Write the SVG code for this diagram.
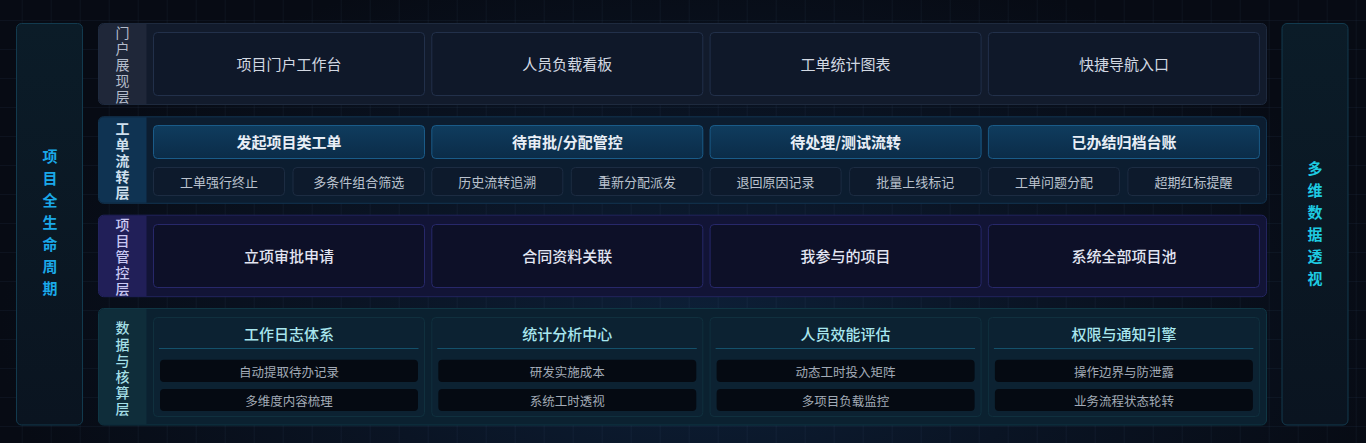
<svg xmlns="http://www.w3.org/2000/svg" width="1366" height="443" viewBox="0 0 1366 443">
<defs>
<radialGradient id="bgGlow" cx="700" cy="330" r="700" gradientUnits="userSpaceOnUse" gradientTransform="translate(700 330) scale(1 0.55) translate(-700 -330)">
<stop offset="0" stop-color="#0d2038"/>
<stop offset="0.5" stop-color="#0a1424"/>
<stop offset="1" stop-color="#070b14"/>
</radialGradient>
<pattern id="grid" x="21.7" y="20" width="29" height="29" patternUnits="userSpaceOnUse">
<path d="M0 0H29M0 0V29" fill="none" stroke="#5a86b4" stroke-opacity="0.13" stroke-width="1"/>
</pattern>
<linearGradient id="hdrGrad" x1="0" y1="0" x2="0" y2="1">
<stop offset="0" stop-color="#0f3c5e"/>
<stop offset="1" stop-color="#0b2c48"/>
</linearGradient>
<linearGradient id="sideGrad" x1="0" y1="0" x2="0" y2="1">
<stop offset="0" stop-color="#0b1c28"/>
<stop offset="1" stop-color="#0a1420"/>
</linearGradient>
</defs>
<style>
text{font-family:"Noto Sans CJK SC","Noto Sans",sans-serif;text-anchor:middle;dominant-baseline:central}
.side{fill:url(#sideGrad);stroke:#123a4e;stroke-width:1}
.sideTxtL{font-size:15px;font-weight:700;fill:#1aa8e8}
.sideTxtR{font-size:15px;font-weight:700;fill:#1ecbe2}
.lyr1{fill:#121b2c;stroke:#1e2a3e;stroke-width:1}
.lyr2{fill:#0c1d30;stroke:#123450;stroke-width:1}
.lyr3{fill:#121436;stroke:#22245e;stroke-width:1}
.lyr4{fill:#0b2130;stroke:#0f3644;stroke-width:1}
.lab1{fill:#1f2739}
.lab2{fill:#0f3352}
.lab3{fill:#211f58}
.lab4{fill:#0f2d3a}
.lt1{font-size:14px;fill:#b4bccb}
.lt2{font-size:14px;font-weight:700;fill:#cfe0ee}
.lt3{font-size:14px;font-weight:500;fill:#c9c8f2}
.lt4{font-size:14px;font-weight:500;fill:#a4dfe6}
.c1{fill:#0f1829;stroke:#22304a;stroke-width:1}
.c1t{font-size:15px;fill:#d2d8e2}
.c2h{fill:url(#hdrGrad);stroke:#1a5b88;stroke-width:1}
.c2ht{font-size:15px;font-weight:700;fill:#e8eef6}
.c2s{fill:#0d1a2c;stroke:#1c2c42;stroke-width:1}
.c2st{font-size:13px;fill:#bac2ce}
.c3{fill:#0d1028;stroke:#27286a;stroke-width:1}
.c3t{font-size:15px;font-weight:500;fill:#e2e5f2}
.c4{fill:#0c2232;stroke:#10303e;stroke-width:1}
.c4t{font-size:15px;font-weight:500;fill:#a8e6ee}
.sep{stroke:#14506a;stroke-width:1}
.pill{fill:#050a12}
.pt{font-size:12.5px;fill:#a2aab6}
</style>
<rect x="0" y="0" width="1366" height="443" fill="url(#bgGlow)"/>
<rect x="0" y="0" width="1366" height="443" fill="url(#grid)"/>

<g id="side-left">
<rect class="side" x="16.5" y="23.5" width="66" height="401.5" rx="5"/>
<text class="sideTxtL" x="50" y="155">项</text>
<text class="sideTxtL" x="50" y="177">目</text>
<text class="sideTxtL" x="50" y="199">全</text>
<text class="sideTxtL" x="50" y="221">生</text>
<text class="sideTxtL" x="50" y="243">命</text>
<text class="sideTxtL" x="50" y="265">周</text>
<text class="sideTxtL" x="50" y="287">期</text>
</g>

<g id="side-right">
<rect class="side" x="1282" y="23.5" width="66" height="401.5" rx="5"/>
<text class="sideTxtR" x="1315" y="167">多</text>
<text class="sideTxtR" x="1315" y="189">维</text>
<text class="sideTxtR" x="1315" y="211">数</text>
<text class="sideTxtR" x="1315" y="233">据</text>
<text class="sideTxtR" x="1315" y="255">透</text>
<text class="sideTxtR" x="1315" y="277">视</text>
</g>

<g id="layer-portal">
<rect class="lyr1" x="98.5" y="23.5" width="1168" height="81" rx="5"/>
<path class="lab1" d="M103.5 24H146.5V104H103.5A5 5 0 0 1 99 99V29A5 5 0 0 1 103.5 24Z"/>
<text class="lt1" x="122.5" y="32">门</text>
<text class="lt1" x="122.5" y="48">户</text>
<text class="lt1" x="122.5" y="64">展</text>
<text class="lt1" x="122.5" y="80">现</text>
<text class="lt1" x="122.5" y="96">层</text>
<g id="p1"><rect class="c1" x="153.5" y="32.5" width="271" height="63" rx="4"/><text class="c1t" x="289" y="63">项目门户工作台</text></g>
<g id="p2"><rect class="c1" x="431.8" y="32.5" width="271" height="63" rx="4"/><text class="c1t" x="567.3" y="63">人员负载看板</text></g>
<g id="p3"><rect class="c1" x="710.1" y="32.5" width="271" height="63" rx="4"/><text class="c1t" x="845.6" y="63">工单统计图表</text></g>
<g id="p4"><rect class="c1" x="988.4" y="32.5" width="271" height="63" rx="4"/><text class="c1t" x="1123.9" y="63">快捷导航入口</text></g>
</g>

<g id="layer-workorder">
<rect class="lyr2" x="98.5" y="116.8" width="1168" height="86.5" rx="5"/>
<path class="lab2" d="M103.5 117.3H146.5V202.8H103.5A5 5 0 0 1 99 197.8V122.3A5 5 0 0 1 103.5 117.3Z"/>
<text class="lt2" x="122.5" y="128">工</text>
<text class="lt2" x="122.5" y="144">单</text>
<text class="lt2" x="122.5" y="160">流</text>
<text class="lt2" x="122.5" y="176">转</text>
<text class="lt2" x="122.5" y="192">层</text>
<g id="w1">
<rect class="c2h" x="153.5" y="125.5" width="271" height="33" rx="4"/><text class="c2ht" x="289" y="141.5">发起项目类工单</text>
<rect class="c2s" x="153.5" y="167.5" width="131" height="28" rx="4"/><text class="c2st" x="219" y="181">工单强行终止</text>
<rect class="c2s" x="293" y="167.5" width="131.5" height="28" rx="4"/><text class="c2st" x="358.7" y="181">多条件组合筛选</text>
</g>
<g id="w2">
<rect class="c2h" x="431.8" y="125.5" width="271" height="33" rx="4"/><text class="c2ht" x="567.3" y="141.5">待审批/分配管控</text>
<rect class="c2s" x="431.8" y="167.5" width="131" height="28" rx="4"/><text class="c2st" x="497.3" y="181">历史流转追溯</text>
<rect class="c2s" x="571.3" y="167.5" width="131.5" height="28" rx="4"/><text class="c2st" x="637" y="181">重新分配派发</text>
</g>
<g id="w3">
<rect class="c2h" x="710.1" y="125.5" width="271" height="33" rx="4"/><text class="c2ht" x="845.6" y="141.5">待处理/测试流转</text>
<rect class="c2s" x="710.1" y="167.5" width="131" height="28" rx="4"/><text class="c2st" x="775.6" y="181">退回原因记录</text>
<rect class="c2s" x="849.6" y="167.5" width="131.5" height="28" rx="4"/><text class="c2st" x="915.3" y="181">批量上线标记</text>
</g>
<g id="w4">
<rect class="c2h" x="988.4" y="125.5" width="271" height="33" rx="4"/><text class="c2ht" x="1123.9" y="141.5">已办结归档台账</text>
<rect class="c2s" x="988.4" y="167.5" width="131" height="28" rx="4"/><text class="c2st" x="1053.9" y="181">工单问题分配</text>
<rect class="c2s" x="1127.9" y="167.5" width="131.5" height="28" rx="4"/><text class="c2st" x="1193.6" y="181">超期红标提醒</text>
</g>
</g>

<g id="layer-project">
<rect class="lyr3" x="98.5" y="215.2" width="1168" height="81.5" rx="5"/>
<path class="lab3" d="M103.5 215.7H146.5V296.2H103.5A5 5 0 0 1 99 291.2V220.7A5 5 0 0 1 103.5 215.7Z"/>
<text class="lt3" x="122.5" y="223.5">项</text>
<text class="lt3" x="122.5" y="240">目</text>
<text class="lt3" x="122.5" y="256">管</text>
<text class="lt3" x="122.5" y="272">控</text>
<text class="lt3" x="122.5" y="288">层</text>
<g id="m1"><rect class="c3" x="153.5" y="224.5" width="271" height="63" rx="4"/><text class="c3t" x="289" y="255">立项审批申请</text></g>
<g id="m2"><rect class="c3" x="431.8" y="224.5" width="271" height="63" rx="4"/><text class="c3t" x="567.3" y="255">合同资料关联</text></g>
<g id="m3"><rect class="c3" x="710.1" y="224.5" width="271" height="63" rx="4"/><text class="c3t" x="845.6" y="255">我参与的项目</text></g>
<g id="m4"><rect class="c3" x="988.4" y="224.5" width="271" height="63" rx="4"/><text class="c3t" x="1123.9" y="255">系统全部项目池</text></g>
</g>

<g id="layer-data">
<rect class="lyr4" x="98.5" y="308.5" width="1168" height="116.5" rx="5"/>
<path class="lab4" d="M103.5 309H146.5V424.5H103.5A5 5 0 0 1 99 419.5V314A5 5 0 0 1 103.5 309Z"/>
<text class="lt4" x="122.5" y="327">数</text>
<text class="lt4" x="122.5" y="343.5">据</text>
<text class="lt4" x="122.5" y="360">与</text>
<text class="lt4" x="122.5" y="376">核</text>
<text class="lt4" x="122.5" y="392">算</text>
<text class="lt4" x="122.5" y="408">层</text>
<g id="d1">
<rect class="c4" x="153.5" y="317.5" width="271" height="99" rx="4"/>
<text class="c4t" x="289" y="333.5">工作日志体系</text>
<line class="sep" x1="159" y1="348.5" x2="418.5" y2="348.5"/>
<rect class="pill" x="160" y="359.7" width="258" height="22.3" rx="4"/><text class="pt" x="289" y="371">自动提取待办记录</text>
<rect class="pill" x="160" y="389" width="258" height="22" rx="4"/><text class="pt" x="289" y="400">多维度内容梳理</text>
</g>
<g id="d2">
<rect class="c4" x="431.8" y="317.5" width="271" height="99" rx="4"/>
<text class="c4t" x="567.3" y="333.5">统计分析中心</text>
<line class="sep" x1="437.3" y1="348.5" x2="696.8" y2="348.5"/>
<rect class="pill" x="438.3" y="359.7" width="258" height="22.3" rx="4"/><text class="pt" x="567.3" y="371">研发实施成本</text>
<rect class="pill" x="438.3" y="389" width="258" height="22" rx="4"/><text class="pt" x="567.3" y="400">系统工时透视</text>
</g>
<g id="d3">
<rect class="c4" x="710.1" y="317.5" width="271" height="99" rx="4"/>
<text class="c4t" x="845.6" y="333.5">人员效能评估</text>
<line class="sep" x1="715.6" y1="348.5" x2="975.1" y2="348.5"/>
<rect class="pill" x="716.6" y="359.7" width="258" height="22.3" rx="4"/><text class="pt" x="845.6" y="371">动态工时投入矩阵</text>
<rect class="pill" x="716.6" y="389" width="258" height="22" rx="4"/><text class="pt" x="845.6" y="400">多项目负载监控</text>
</g>
<g id="d4">
<rect class="c4" x="988.4" y="317.5" width="271" height="99" rx="4"/>
<text class="c4t" x="1123.9" y="333.5">权限与通知引擎</text>
<line class="sep" x1="993.9" y1="348.5" x2="1253.4" y2="348.5"/>
<rect class="pill" x="994.9" y="359.7" width="258" height="22.3" rx="4"/><text class="pt" x="1123.9" y="371">操作边界与防泄露</text>
<rect class="pill" x="994.9" y="389" width="258" height="22" rx="4"/><text class="pt" x="1123.9" y="400">业务流程状态轮转</text>
</g>
</g>
<g id="connectors"/>
</svg>
